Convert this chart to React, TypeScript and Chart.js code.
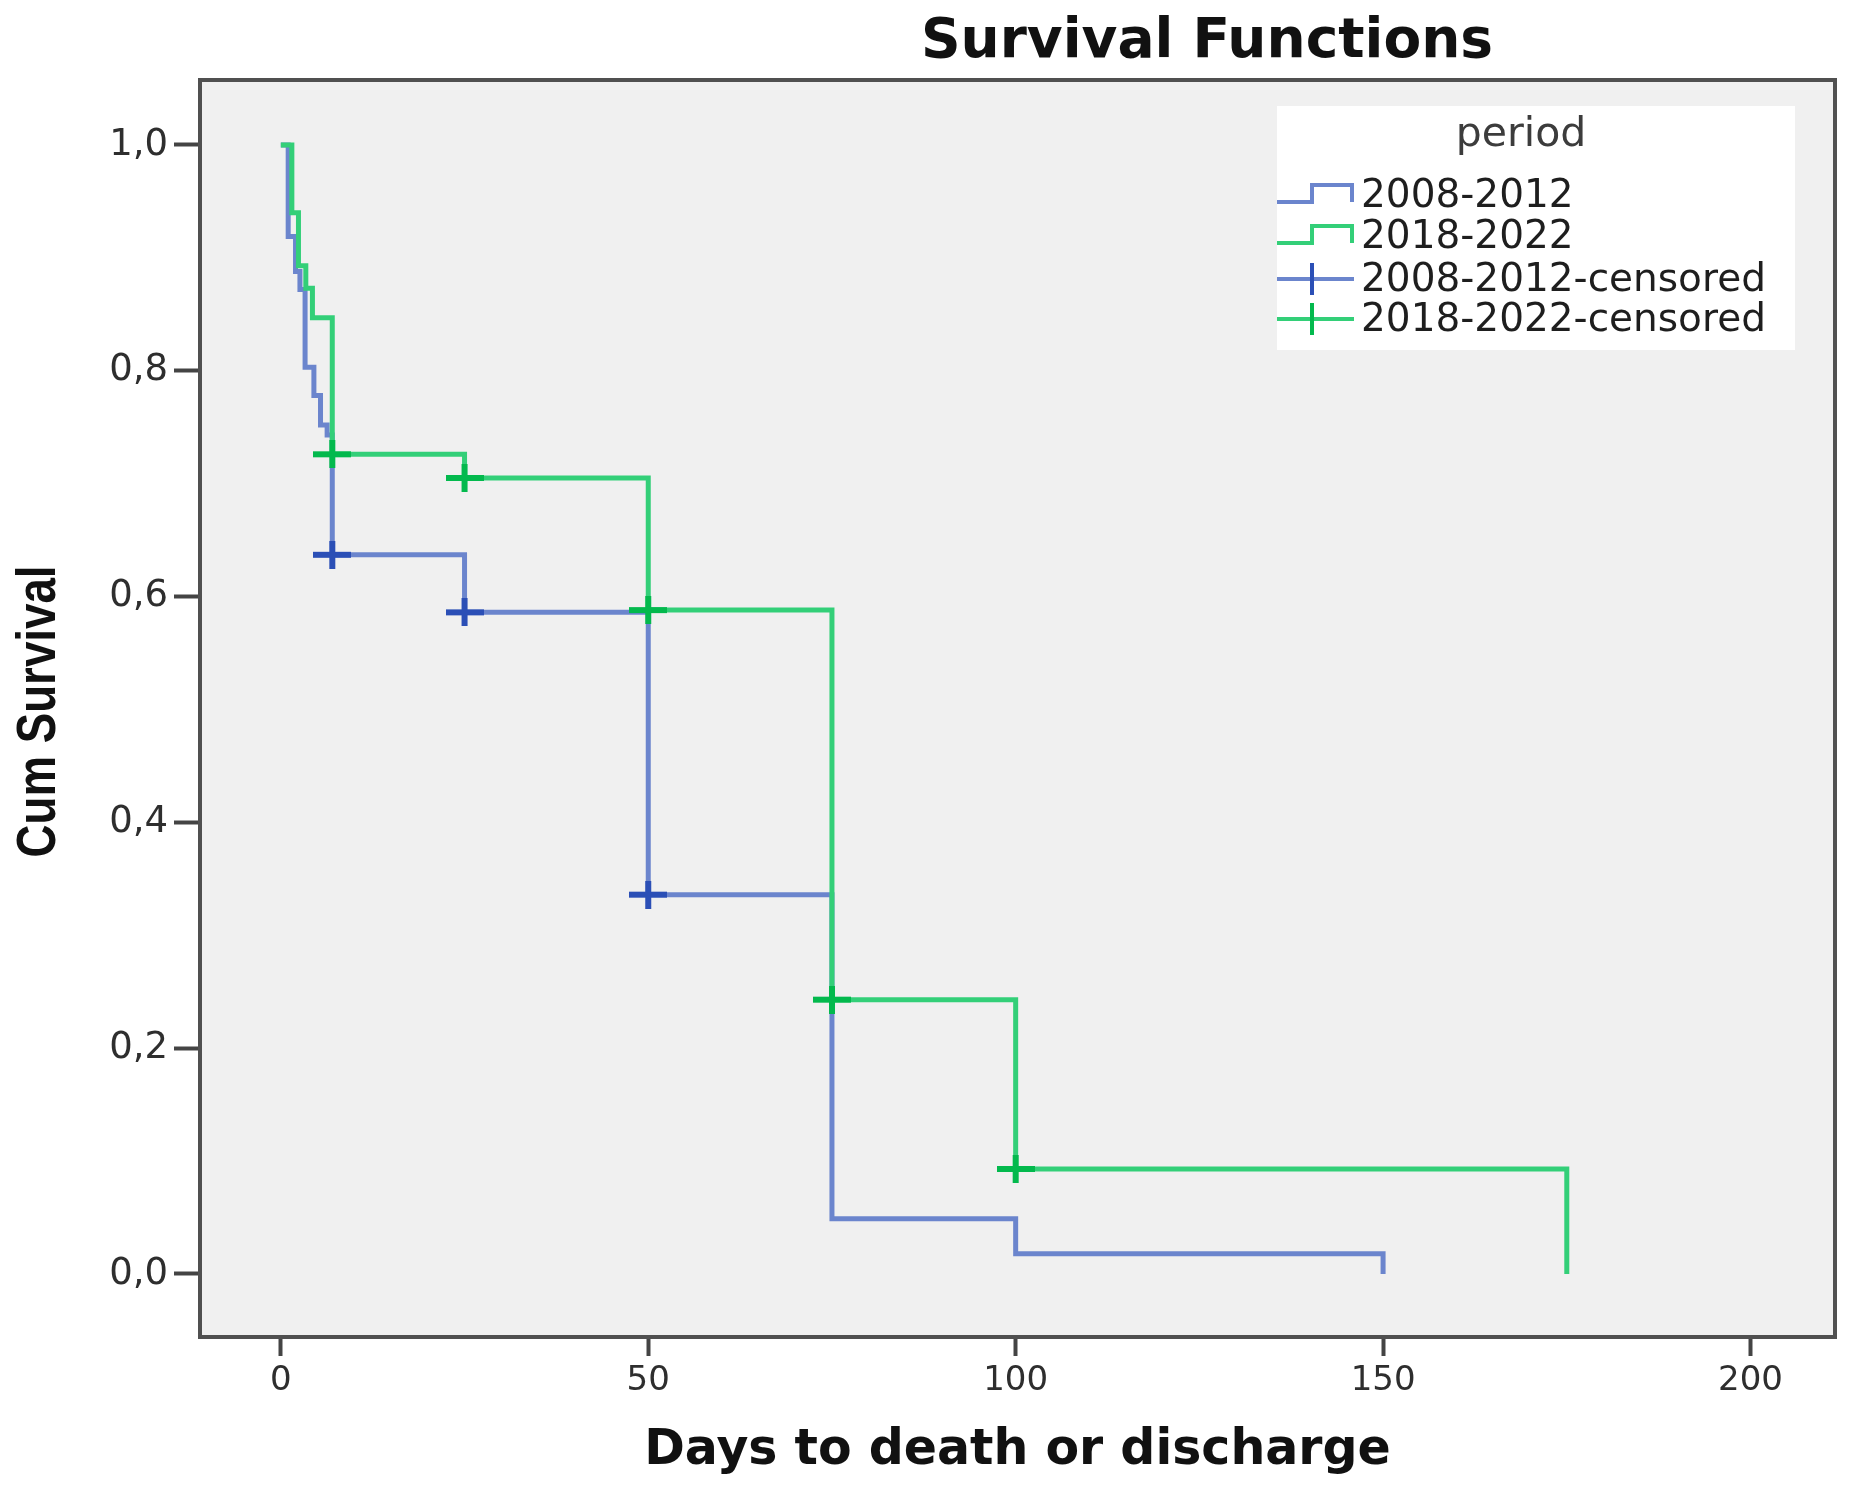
import React, { useEffect, useRef } from "react";
import { Chart, registerables } from "chart.js";

Chart.register(...registerables);

// ---- data ----
const xTicks = [0, 50, 100, 150, 200];
const yTicks = [0, 0.2, 0.4, 0.6, 0.8, 1.0];
const yTickLabels = ["0,0", "0,2", "0,4", "0,6", "0,8", "1,0"];

const blueDays = [0, 1, 2, 2.6, 3.3, 4.5, 5.4, 6.3, 7, 25, 50, 75, 100, 150];
const blueSurvival = [1.0, 0.919, 0.888, 0.872, 0.803, 0.778, 0.752, 0.743, 0.637, 0.586, 0.336, 0.049, 0.018, 0.0];
const blueCensoredDays = [7, 25, 50];
const blueCensoredSurvival = [0.637, 0.586, 0.336];

const greenDays = [0, 1.5, 2.4, 3.4, 4.3, 7, 25, 50, 75, 100, 175];
const greenSurvival = [1.0, 0.94, 0.893, 0.873, 0.847, 0.726, 0.705, 0.588, 0.243, 0.093, 0.0];
const greenCensoredDays = [7, 25, 50, 75, 100];
const greenCensoredSurvival = [0.726, 0.705, 0.588, 0.243, 0.093];

const seriesLabels = ["2008-2012", "2018-2022", "2008-2012-censored", "2018-2022-censored"];
const legendTitle = "period";
const chartTitle = "Survival Functions";
const xTitle = "Days to death or discharge";
const yTitle = "Cum Survival";

const BLUE_LINE = "#6b85cd";
const GREEN_LINE = "#33cf78";
const BLUE_MARK = "#2b4fb6";
const GREEN_MARK = "#03b94d";

const pts = (xs: number[], ys: number[]) => xs.map((x, i) => ({ x, y: ys[i] }));

function makeCross(color: string) {
  const c = document.createElement("canvas");
  c.width = 38;
  c.height = 28;
  const g = c.getContext("2d")!;
  g.fillStyle = color;
  g.fillRect(0, 11, 38, 6);
  g.fillRect(16, 0, 6, 28);
  return c;
}

const decorPlugin = {
  id: "decor",
  beforeDraw(chart: any) {
    const { ctx, chartArea: a } = chart;
    ctx.save();
    ctx.fillStyle = "#f0f0f0";
    ctx.fillRect(a.left, a.top, a.right - a.left, a.bottom - a.top);
    ctx.restore();
  },
  afterDraw(chart: any) {
    const { ctx, chartArea: a } = chart;
    ctx.save();
    // frame
    ctx.strokeStyle = "#505050";
    ctx.lineWidth = 4;
    ctx.strokeRect(a.left, a.top, a.right - a.left, a.bottom - a.top);

    // main title
    ctx.fillStyle = "#111111";
    ctx.font = 'bold 55px "DejaVu Sans"';
    ctx.textAlign = "center";
    ctx.textBaseline = "middle";
    ctx.fillText(chartTitle, a.left + 1007, 43);

    // y axis title (condensed bold)
    ctx.save();
    ctx.font = 'bold 56px "Liberation Sans"';
    const w = ctx.measureText(yTitle).width;
    ctx.translate(40, (a.top + a.bottom) / 2 + 3);
    ctx.rotate(-Math.PI / 2);
    ctx.scale(292 / w, 1);
    ctx.fillStyle = "#111111";
    ctx.fillText(yTitle, 0, 0);
    ctx.restore();

    // legend
    const bx = a.right - 558;
    const by = a.top + 26;
    const bw = 518;
    const bh = 244;
    ctx.fillStyle = "#ffffff";
    ctx.fillRect(bx, by, bw, bh);
    ctx.fillStyle = "#3c3c3c";
    ctx.font = '41px "DejaVu Sans"';
    ctx.fillText(legendTitle, bx + 244, by + 29);

    const ds = chart.data.datasets;
    const rowY = [by + 89, by + 130, by + 173, by + 213];
    ctx.textAlign = "left";
    ctx.font = '39px "DejaVu Sans"';
    for (let i = 0; i < 4; i++) {
      const y = rowY[i];
      const d = ds[i];
      ctx.lineWidth = 4;
      ctx.strokeStyle = i < 2 ? d.borderColor : i === 2 ? BLUE_LINE : GREEN_LINE;
      ctx.beginPath();
      if (i < 2) {
        ctx.moveTo(bx, y + 7);
        ctx.lineTo(bx + 35, y + 7);
        ctx.lineTo(bx + 35, y - 10);
        ctx.lineTo(bx + 75, y - 10);
        ctx.lineTo(bx + 75, y + 7);
        ctx.stroke();
      } else {
        ctx.moveTo(bx, y);
        ctx.lineTo(bx + 77, y);
        ctx.stroke();
        ctx.strokeStyle = d.borderColor;
        ctx.lineWidth = 4;
        ctx.beginPath();
        ctx.moveTo(bx + 35, y - 16);
        ctx.lineTo(bx + 35, y + 16);
        ctx.stroke();
      }
      ctx.fillStyle = "#1e1e1e";
      ctx.fillText(d.label, bx + 84, y + 2);
    }
    ctx.restore();
  },
};

export default function App() {
  const ref = useRef<HTMLCanvasElement | null>(null);
  useEffect(() => {
    if (!ref.current) return;
    const blueCross = makeCross(BLUE_MARK);
    const greenCross = makeCross(GREEN_MARK);
    const chart = new Chart(ref.current, {
      type: "line",
      data: {
        datasets: [
          {
            label: seriesLabels[0],
            data: pts(blueDays, blueSurvival),
            borderColor: BLUE_LINE,
            borderWidth: 5,
            stepped: "before",
            pointRadius: 0,
            fill: false,
            order: 4,
          },
          {
            label: seriesLabels[1],
            data: pts(greenDays, greenSurvival),
            borderColor: GREEN_LINE,
            borderWidth: 5,
            stepped: "before",
            pointRadius: 0,
            fill: false,
            order: 3,
          },
          {
            label: seriesLabels[2],
            data: pts(blueCensoredDays, blueCensoredSurvival),
            borderColor: BLUE_MARK,
            backgroundColor: BLUE_MARK,
            showLine: false,
            pointStyle: blueCross,
            pointRadius: 15,
            order: 2,
          },
          {
            label: seriesLabels[3],
            data: pts(greenCensoredDays, greenCensoredSurvival),
            borderColor: GREEN_MARK,
            backgroundColor: GREEN_MARK,
            showLine: false,
            pointStyle: greenCross,
            pointRadius: 15,
            order: 1,
          },
        ],
      },
      options: {
        animation: false,
        responsive: false,
        devicePixelRatio: 1,
        layout: { padding: { left: 0, top: 80, right: 19, bottom: 0 } },
        plugins: { legend: { display: false }, title: { display: false }, tooltip: { enabled: false } },
        scales: {
          x: {
            type: "linear",
            min: -11,
            max: 211.5,
            afterBuildTicks: (s: any) => {
              s.ticks = xTicks.map((v) => ({ value: v }));
            },
            afterFit: (s: any) => {
              s.height = 155;
            },
            grid: { drawOnChartArea: false, drawTicks: true, tickLength: 19, tickColor: "#444444", tickWidth: 4 },
            border: { display: false },
            ticks: {
              color: "#2e2e2e",
              font: { family: '"DejaVu Sans"', size: 34 },
              padding: 5,
              maxRotation: 0,
              callback: (v: any) => String(v),
            },
            title: {
              display: true,
              text: xTitle,
              color: "#111111",
              font: { family: '"DejaVu Sans"', size: 49, weight: "bold" },
              padding: { top: 0, bottom: 11 },
            },
          },
          y: {
            type: "linear",
            min: -0.0558,
            max: 1.0575,
            afterBuildTicks: (s: any) => {
              s.ticks = yTicks.map((v) => ({ value: v }));
            },
            afterFit: (s: any) => {
              s.width = 200;
            },
            grid: { drawOnChartArea: false, drawTicks: true, tickLength: 26, tickColor: "#444444", tickWidth: 4 },
            border: { display: false },
            ticks: {
              color: "#2e2e2e",
              font: { family: '"DejaVu Sans"', size: 37 },
              padding: 6,
              callback: (v: any) => {
                const i = yTicks.findIndex((t) => Math.abs(t - v) < 1e-9);
                return i >= 0 ? yTickLabels[i] : "";
              },
            },
            title: { display: false },
          },
        },
      },
      plugins: [decorPlugin],
    });
    return () => chart.destroy();
  }, []);

  return (
    <div style={{ position: "fixed", left: 0, top: 0, width: 1854, height: 1492, background: "#ffffff" }}>
      <canvas ref={ref} width={1854} height={1492} style={{ display: "block" }} />
    </div>
  );
}
